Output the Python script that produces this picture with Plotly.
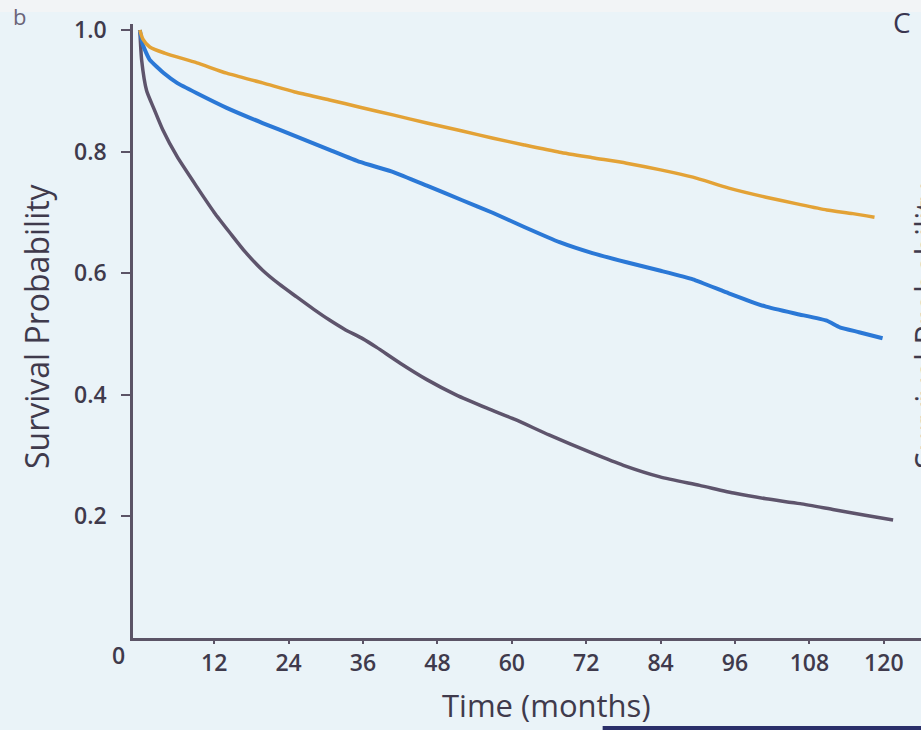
import plotly.graph_objects as go

# ---- data ----
orange_months = [0, 0.5, 1.6, 4, 9.2, 14, 19.8, 25, 30.6, 35.5, 41, 46.3, 52, 57, 62,
                 67.7, 73, 78.5, 84, 89.2, 95, 101, 106, 110.8, 115, 118.5]
orange_surv = [1.0, 0.985, 0.972, 0.962, 0.946, 0.929, 0.913, 0.898, 0.885, 0.873, 0.860,
               0.847, 0.834, 0.822, 0.811, 0.799, 0.790, 0.781, 0.770, 0.758, 0.740,
               0.725, 0.714, 0.704, 0.698, 0.692]

blue_months = [0, 0.5, 1.6, 4, 6, 9.2, 14, 19.8, 25, 30.6, 35.5, 41, 46.3, 52, 57, 62,
               67.7, 73, 78.5, 84, 89.2, 95, 101, 106, 110.8, 112.9, 116, 119.8]
blue_surv = [1.0, 0.975, 0.951, 0.928, 0.913, 0.896, 0.872, 0.847, 0.826, 0.803, 0.783,
             0.766, 0.744, 0.720, 0.699, 0.676, 0.651, 0.633, 0.618, 0.604, 0.590,
             0.567, 0.545, 0.533, 0.522, 0.511, 0.503, 0.493]

gray_months = [0, 0.3, 1.1, 2.3, 3.7, 6, 9.2, 12, 14.5, 17, 19.8, 22.5, 25.3, 28, 30.6,
               33, 36, 38.2, 42, 46.3, 51, 56, 60.6, 66, 73, 78, 83.9, 90.3, 96, 101,
               106.5, 112, 117, 121.5]
gray_surv = [1.0, 0.95, 0.90, 0.87, 0.836, 0.792, 0.742, 0.700, 0.667, 0.635, 0.605,
             0.582, 0.561, 0.541, 0.523, 0.508, 0.492, 0.478, 0.452, 0.425, 0.400,
             0.378, 0.359, 0.334, 0.304, 0.284, 0.265, 0.251, 0.238, 0.229, 0.221,
             0.211, 0.202, 0.194]

x_ticks = [12, 24, 36, 48, 60, 72, 84, 96, 108, 120]
y_ticks = [0.2, 0.4, 0.6, 0.8, 1.0]
y_tick_text = ["0.2", "0.4", "0.6", "0.8", "1.0"]

# ---- styling ----
FONT = "Open Sans"
AXIS = "#5b5366"
TXT = "#3f3a4c"
BG = "#eaf3f8"

fig = go.Figure()
fig.add_trace(go.Scatter(x=gray_months, y=gray_surv, mode="lines",
                         line=dict(color="#5e546c", width=3.5, shape="spline", smoothing=0.6),
                         showlegend=False))
fig.add_trace(go.Scatter(x=blue_months, y=blue_surv, mode="lines",
                         line=dict(color="#2b78d6", width=4, shape="spline", smoothing=0.4),
                         showlegend=False))
fig.add_trace(go.Scatter(x=orange_months, y=orange_surv, mode="lines",
                         line=dict(color="#e3a236", width=3.5, shape="spline", smoothing=0.6),
                         showlegend=False))

fig.update_layout(
    width=921, height=730,
    margin=dict(l=133, r=0, t=24, b=92),
    paper_bgcolor=BG, plot_bgcolor=BG,
    font=dict(family=FONT, color=TXT),
    xaxis=dict(range=[-1.1, 126], tickvals=x_ticks, ticktext=[str(v) for v in x_ticks],
               showgrid=False, zeroline=False, showline=True, linecolor=AXIS, linewidth=2.5,
               ticks="outside", ticklen=3, tickcolor=AXIS, tickwidth=1.5,
               tickfont=dict(size=23, color=TXT, weight=600)),
    yaxis=dict(range=[0, 1.0099], tickvals=y_ticks, ticktext=y_tick_text,
               showgrid=False, zeroline=False, showline=True, linecolor=AXIS, linewidth=2.5,
               ticks="outside", ticklen=9, tickcolor=AXIS, tickwidth=1.5,
               ticklabelstandoff=10,
               tickfont=dict(size=23, color=TXT, weight=600)),
    shapes=[
        dict(type="rect", xref="paper", yref="paper", x0=-0.2, x1=1.0, y0=1.0195, y1=1.05,
             fillcolor="#f2f4f6", line=dict(width=0), layer="below"),
        dict(type="rect", xref="paper", yref="paper", x0=0.596, x1=1.0,
             y0=(638 - 731) / 614, y1=(638 - 726) / 614,
             fillcolor="#2a2f6a", line=dict(width=0), layer="below"),
    ],
    annotations=[
        dict(text="Survival Probability", xref="paper", yref="paper",
             x=(36 - 133) / 788, y=(638 - 326) / 614, textangle=-90, showarrow=False,
             font=dict(size=32, color=TXT), xanchor="center", yanchor="middle"),
        dict(text="Time (months)", xref="paper", yref="paper",
             x=(546 - 133) / 788, y=(638 - 705) / 614, showarrow=False,
             font=dict(size=31, color=TXT), xanchor="center", yanchor="middle"),
        dict(text="0", xref="paper", yref="paper",
             x=(118 - 133) / 788, y=(638 - 655) / 614, showarrow=False,
             font=dict(size=23, color=TXT, weight=600), xanchor="center", yanchor="middle"),
        dict(text="C", xref="paper", yref="paper",
             x=(902 - 133) / 788, y=(638 - 22) / 614, showarrow=False,
             font=dict(size=28, color="#3a3550"), xanchor="center", yanchor="middle"),
        dict(text="b", xref="paper", yref="paper",
             x=(20 - 133) / 788, y=(638 - 16) / 614, showarrow=False,
             font=dict(size=22, color="#6a6478"), xanchor="center", yanchor="middle"),
        dict(text="Survival Probability", xref="paper", yref="paper",
             x=(926 - 133) / 788, y=(638 - 326) / 614, textangle=-90, showarrow=False,
             font=dict(size=32, color=TXT), xanchor="center", yanchor="middle"),
    ],
)

fig.write_html("out.html",
               config={"displayModeBar": False},
               post_script="document.body.style.margin='0';"
                           "document.body.style.background='#eaf3f8';")
